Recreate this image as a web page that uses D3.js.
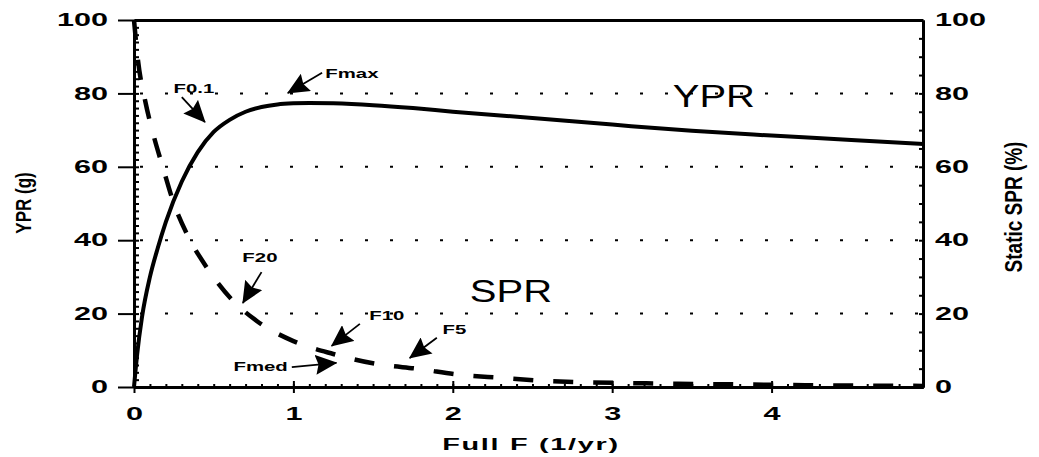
<!DOCTYPE html>
<html>
<head>
<meta charset="utf-8">
<script src="https://cdn.jsdelivr.net/npm/d3@7"></script>
<style>
  body { margin: 0; background: #fff; }
  text { font-family: 'Liberation Sans', Arial, sans-serif; fill: #000; }
</style>
</head>
<body>
<svg id="chart" width="1039" height="457"></svg>
<script>
/* values */
var ypr_f    = [0, 0.02, 0.05, 0.1, 0.15, 0.2, 0.3, 0.4, 0.5, 0.6, 0.7, 0.8, 0.9, 1.0, 1.1, 1.25, 1.5, 1.75, 2, 2.5, 3, 3.5, 4, 4.5, 4.95];
var ypr_vals = [0, 9, 19, 30, 38, 45, 56, 64, 69.5, 72.8, 75, 76.3, 77, 77.3, 77.4, 77.3, 76.8, 76, 75, 73.3, 71.5, 69.8, 68.5, 67.3, 66.2];

var spr_f    = [0, 0.025, 0.07, 0.12, 0.18, 0.25, 0.34, 0.45, 0.61, 0.77, 1.0, 1.25, 1.52, 1.79, 2.05, 2.3, 2.56, 2.83, 3.2, 3.6, 4.0, 4.5, 4.95];
var spr_vals = [100, 89, 78, 69, 60, 50, 41, 33, 24, 18, 12.5, 9, 6.3, 4.9, 3.3, 2.5, 1.7, 1.3, 1.0, 0.8, 0.6, 0.4, 0.3];

var x_ticks = [0, 1, 2, 3, 4];
var y_ticks = [0, 20, 40, 60, 80, 100];
var grid_vals = [20, 40, 60, 80];

// reference points: label text, text anchor point, arrow tail, arrow tip (F, value)
var ann_labels  = ["F0.1", "Fmax", "F20", "F10", "F5", "Fmed"];
var ann_anchor  = ["middle", "start", "middle", "middle", "middle", "end"];
var ann_text_f  = [0.376, 1.2, 0.79, 1.586, 2.01, 0.965];
var ann_text_v  = [80.1, 84.2, 34, 18.3, 14.4, 4.4];
var ann_tail_f  = [0.30, 1.18, 0.80, 1.417, 1.90, 0.99];
var ann_tail_v  = [79, 85.6, 31.3, 17.2, 13.4, 5.4];
var ann_tip_f   = [0.445, 0.965, 0.683, 1.24, 1.73, 1.27];
var ann_tip_v   = [72.2, 80.1, 22.9, 11.2, 7.9, 6.6];

var curve_names = ["YPR", "SPR"];
var curve_lab_f = [3.38, 2.107];
var curve_lab_v = [76.3, 23.2];

var svg = d3.select("#chart");
var x = d3.scaleLinear().domain([0, 4.95]).range([134, 923]);
var y = d3.scaleLinear().domain([0, 100]).range([387, 20]);

// the scan is stretched sideways, so text gets a horizontal scale
function stretch(sel, sx, sy) {
  sel.each(function() {
    var t = d3.select(this);
    var tx = +t.attr("x") || 0, ty = +t.attr("y") || 0;
    t.attr("x", 0).attr("y", 0)
     .attr("transform", "translate(" + tx + "," + ty + ") scale(" + sx + "," + (sy || 1) + ")");
  });
}

// dotted gridlines
svg.append("g").selectAll("line").data(grid_vals).enter().append("line")
  .attr("x1", x(0) + 6).attr("x2", x.range()[1])
  .attr("y1", function(d) { return y(d); }).attr("y2", function(d) { return y(d); })
  .attr("stroke", "#000").attr("stroke-width", 2)
  .attr("stroke-dasharray", "3,22");

// axes
var gl = svg.append("g").attr("transform", "translate(" + x(0) + ",0)")
  .call(d3.axisLeft(y).tickValues(y_ticks).tickSize(16).tickPadding(10).tickSizeOuter(0));
svg.append("g").attr("transform", "translate(" + x(0) + ",0)")
  .call(d3.axisRight(y).ticks(50).tickSize(5).tickFormat("").tickSizeOuter(0));

var gr = svg.append("g").attr("transform", "translate(" + x.range()[1] + ",0)")
  .call(d3.axisRight(y).tickValues(y_ticks).tickSize(0).tickPadding(12).tickSizeOuter(0));
svg.append("g").attr("transform", "translate(" + x.range()[1] + ",0)")
  .call(d3.axisLeft(y).ticks(25).tickSize(4).tickFormat("").tickSizeOuter(0));

var gb = svg.append("g").attr("transform", "translate(0," + y(0) + ")")
  .call(d3.axisBottom(x).tickValues(x_ticks).tickFormat(d3.format("d")).tickSize(6).tickSizeOuter(0));
svg.append("g").attr("transform", "translate(0," + y(0) + ")")
  .call(d3.axisTop(x).ticks(50).tickSize(3).tickFormat("").tickSizeOuter(0));
svg.append("g").attr("transform", "translate(0," + y(0) + ")")
  .call(d3.axisTop(x).tickValues(x_ticks).tickSize(6).tickFormat("").tickSizeOuter(0));

svg.append("g").attr("transform", "translate(0," + y(100) + ")")
  .call(d3.axisBottom(x).tickValues([]).tickSizeOuter(0));

svg.selectAll(".domain").attr("stroke-width", 3);
svg.selectAll(".tick line").attr("stroke-width", 2);

[gl, gr, gb].forEach(function(g) {
  g.selectAll("text").attr("font-size", 18).attr("font-weight", "bold")
    .attr("font-family", "'Liberation Sans', Arial, sans-serif");
});
gb.selectAll("text").attr("y", 20);
stretch(gl.selectAll("text"), 1.7);
stretch(gr.selectAll("text"), 1.7);
stretch(gb.selectAll("text"), 1.7);

// curves
var ypr_data = ypr_f.map(function(f, i) { return [f, ypr_vals[i]]; });
var spr_data = spr_f.map(function(f, i) { return [f, spr_vals[i]]; });
var line = d3.line()
  .x(function(d) { return x(d[0]); })
  .y(function(d) { return y(d[1]); })
  .curve(d3.curveMonotoneX);

svg.append("path").datum(ypr_data).attr("d", line)
  .attr("fill", "none").attr("stroke", "#000").attr("stroke-width", 4);
svg.append("path").datum(spr_data).attr("d", line)
  .attr("fill", "none").attr("stroke", "#000").attr("stroke-width", 4.5)
  .attr("stroke-dasharray", "20,20");

// arrows
svg.append("defs").append("marker")
  .attr("id", "head").attr("markerUnits", "userSpaceOnUse")
  .attr("viewBox", "0 0 22 20").attr("refX", 21).attr("refY", 10)
  .attr("markerWidth", 22).attr("markerHeight", 20).attr("orient", "auto")
  .append("path").attr("d", "M0,0 L22,10 L0,20 L3,10 Z").attr("fill", "#000");

svg.append("g").selectAll("line").data(ann_labels).enter().append("line")
  .attr("x1", function(d, i) { return x(ann_tail_f[i]); })
  .attr("y1", function(d, i) { return y(ann_tail_v[i]); })
  .attr("x2", function(d, i) { return x(ann_tip_f[i]); })
  .attr("y2", function(d, i) { return y(ann_tip_v[i]); })
  .attr("stroke", "#000").attr("stroke-width", 1.8)
  .attr("marker-end", "url(#head)");

var at = svg.append("g").selectAll("text").data(ann_labels).enter().append("text")
  .attr("x", function(d, i) { return x(ann_text_f[i]); })
  .attr("y", function(d, i) { return y(ann_text_v[i]); })
  .attr("text-anchor", function(d, i) { return ann_anchor[i]; })
  .attr("font-size", 12).attr("font-weight", "bold")
  .text(function(d) { return d; });
stretch(at, 1.7);

// curve labels
var cl = svg.append("g").selectAll("text").data(curve_names).enter().append("text")
  .attr("x", function(d, i) { return x(curve_lab_f[i]); })
  .attr("y", function(d, i) { return y(curve_lab_v[i]); })
  .attr("font-size", 32)
  .text(function(d) { return d; });
stretch(cl, 1.25);

// axis titles
var xt = svg.append("text").attr("x", 531).attr("y", 450)
  .attr("text-anchor", "middle").attr("font-size", 17).attr("font-weight", "bold")
  .attr("letter-spacing", 1).text("Full F (1/yr)");
stretch(xt, 1.7);

svg.append("text")
  .attr("transform", "translate(31,203) rotate(-90) scale(1,1.3)")
  .attr("text-anchor", "middle").attr("font-size", 17).attr("font-weight", "bold")
  .text("YPR (g)");
svg.append("text")
  .attr("transform", "translate(1022,207) rotate(-90) scale(1,1.3)")
  .attr("text-anchor", "middle").attr("font-size", 19).attr("font-weight", "bold")
  .text("Static SPR (%)");
</script>
</body>
</html>
